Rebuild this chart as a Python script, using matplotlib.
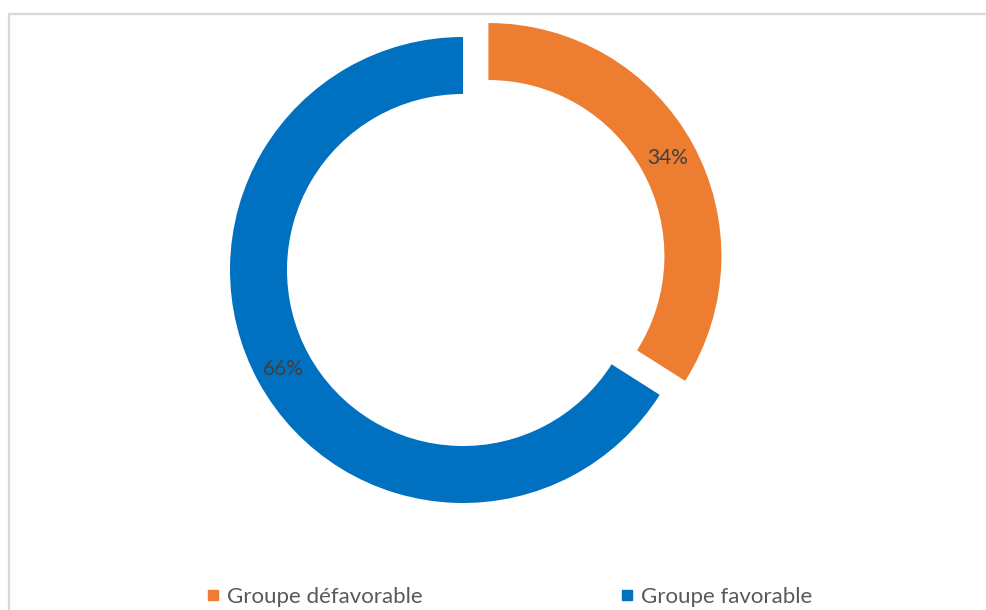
import matplotlib
matplotlib.use("Agg")
import matplotlib.pyplot as plt
from matplotlib.lines import Line2D

categories = ["Groupe défavorable", "Groupe favorable"]
values = [34, 66]
colors = ["#ED7D31", "#0070C0"]
explode = [29, 0]  # offset of the detached slice, in pixels (data units)

W, H = 986, 610
fig = plt.figure(figsize=(W / 100, H / 100), dpi=100)
ax = fig.add_axes([0, 0, 1, 1])

R = 233
ring = 57
wedges, texts, autotexts = ax.pie(
    values,
    explode=explode,
    colors=colors,
    startangle=90,
    counterclock=False,
    radius=R,
    center=(463, H - 270),
    wedgeprops=dict(width=ring, linewidth=0),
    autopct=lambda p: f"{p:.0f}%",
    pctdistance=(R - ring / 2) / R,
    textprops=dict(fontsize=15, color="#404040", family=["Lato", "DejaVu Sans"]),
    frame=True,
)
ax.set_xlim(0, W)
ax.set_ylim(0, H)
ax.set_aspect("equal")
ax.axis("off")

# chart border (top and left visible)
fig.add_artist(Line2D([9 / W, 1.0], [1 - 14 / H, 1 - 14 / H], color="#d9d9d9", lw=1.6,
                      transform=fig.transFigure))
fig.add_artist(Line2D([9 / W, 9 / W], [0, 1 - 14 / H], color="#d9d9d9", lw=1.6,
                      transform=fig.transFigure))

handles = [Line2D([], [], marker="s", linestyle="none", markersize=6.5,
                  markerfacecolor=c, markeredgecolor=c) for c in colors]
leg = ax.legend(handles, categories, loc="center", ncol=2,
                bbox_to_anchor=(510 / W, 1 - 597 / H), bbox_transform=fig.transFigure,
                frameon=False, handlelength=0.45, handletextpad=0.4,
                columnspacing=9.0, borderpad=0, borderaxespad=0,
                prop=dict(family=["Lato", "DejaVu Sans"], size=16))
for t in leg.get_texts():
    t.set_color("#595959")

fig.savefig("out.png", dpi=100, facecolor="white")
